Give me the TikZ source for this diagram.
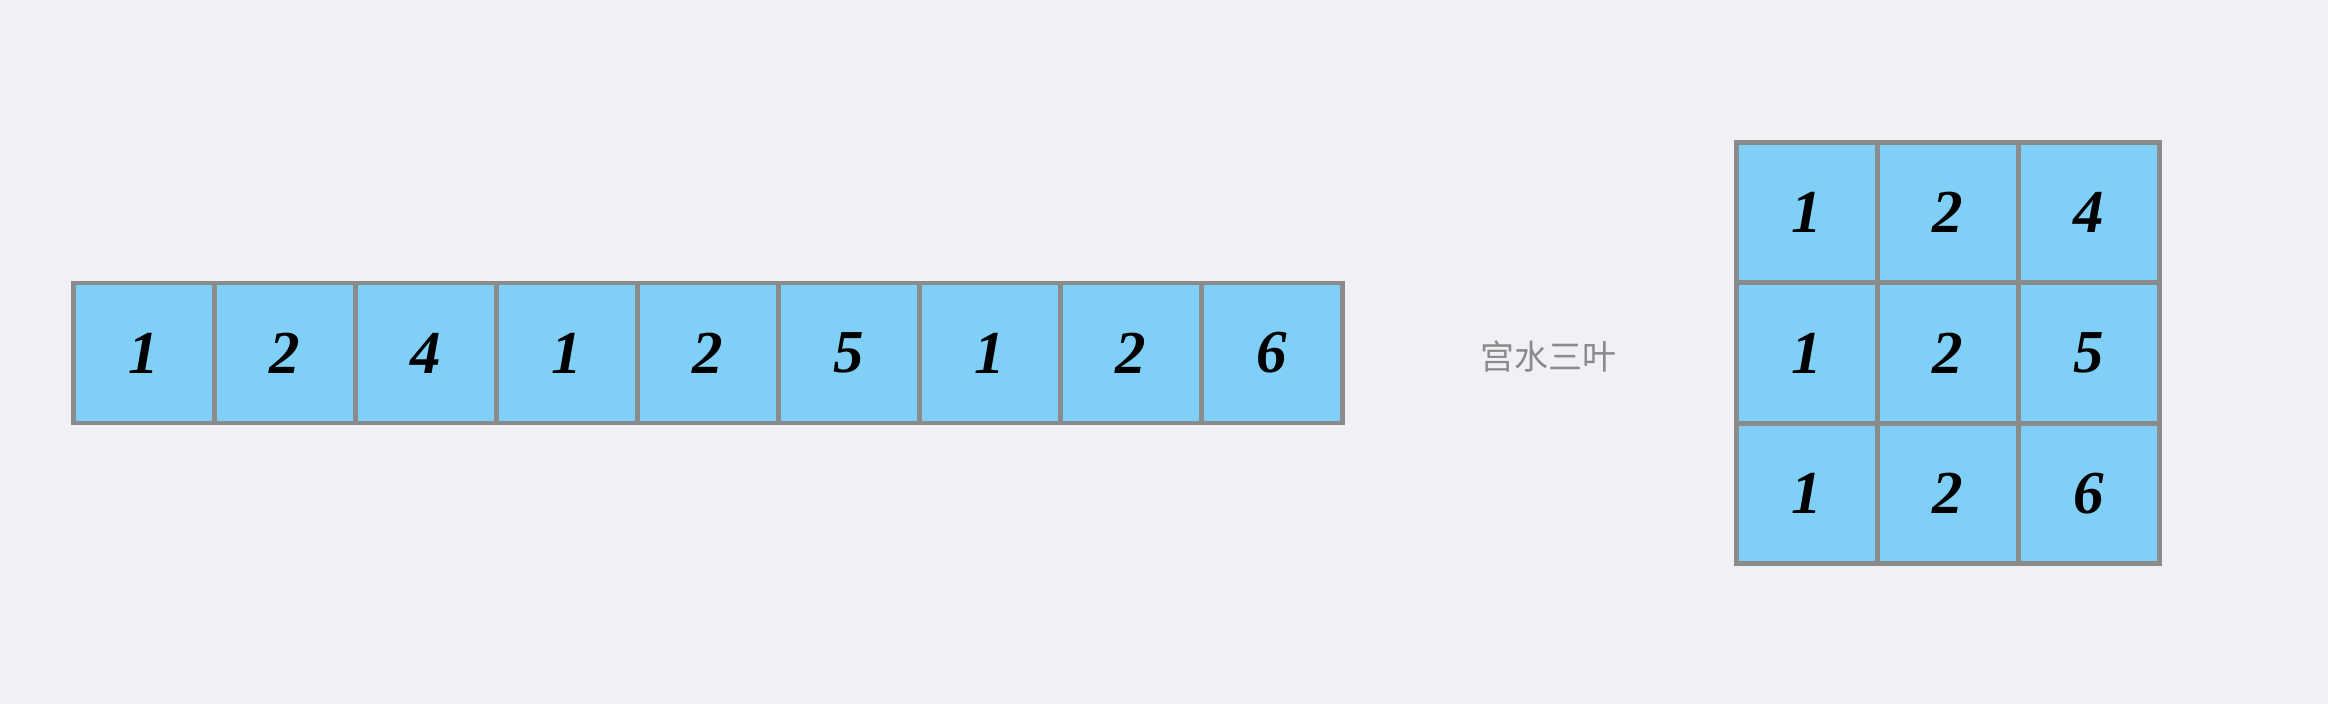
\documentclass[tikz,border=0pt]{standalone}
\usepackage{fontspec}
\setmainfont{Liberation Serif}
\newfontfamily\cjk{Noto Sans CJK SC}
\definecolor{bgc}{RGB}{240,240,245}
\definecolor{cellc}{RGB}{127,207,247}
\definecolor{edgec}{RGB}{139,139,139}
\definecolor{lblc}{RGB}{138,138,138}
\tikzset{
  cell/.style={rectangle, draw=edgec, fill=cellc, line width=4.5pt, inner sep=0pt,
    minimum width=141pt, minimum height=140pt,
    font=\fontsize{61}{64}\selectfont\bfseries\itshape, text=black},
  lbl/.style={font=\cjk\fontsize{34}{36}\selectfont, text=lblc, inner sep=0pt}
}
\begin{document}
\begin{tikzpicture}[x=1pt,y=-1pt]
\fill[bgc] (0,0) rectangle (2328,704);
\useasboundingbox (0,0) rectangle (2328,704);
% row
\foreach \v [count=\i from 0] in {1,2,4,1,2,5,1,2,6}{
  \node[cell] (r\i) at ({144+141*\i},353) {\v};
}
% label
\node[lbl] (name) at (1548,356) {宫水三叶};
% grid
\foreach \v [count=\k from 0] in {1,2,4,1,2,5,1,2,6}{
  \pgfmathtruncatemacro{\rr}{div(\k,3)}
  \pgfmathtruncatemacro{\cc}{mod(\k,3)}
  \node[cell] (g\rr\cc) at ({1807+141*\cc},{212.5+140.4*\rr}) {\v};
}
\end{tikzpicture}
\end{document}
